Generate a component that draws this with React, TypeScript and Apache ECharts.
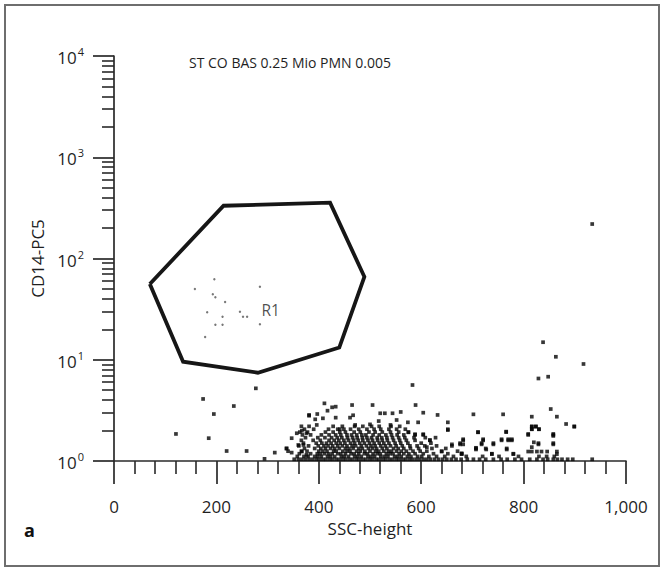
import React, { useEffect, useRef } from 'react';
import * as echarts from 'echarts';

// ---- Data ----
const titleText = 'ST CO BAS 0.25 Mio PMN 0.005';
const xAxisName = 'SSC-height';
const yAxisName = 'CD14-PC5';
const gateName = 'R1';
const panelLetter = 'a';

const xMin = 0;
const xMax = 1000;
const xInterval = 200;
const yMin = 1;
const yMax = 10000;

// Gate R1 polygon vertices [SSC, CD14] (closed)
const gateVertices: number[][] = [
  [70, 56], [214, 332], [422, 356], [489, 66], [440, 13.2], [281, 7.45], [135, 9.57], [70, 56],
];

// R1 label anchor
const gateLabelPos: number[] = [288, 31];

// Events inside the gate
const gateEvents: number[][] = [
  [158, 50], [196, 62.3], [193, 44.3], [198, 41.4], [217, 37.2], [182, 29.4], [212, 26.6],
  [246, 29.8], [252, 26.6], [260, 26.6], [285, 52.7], [285, 22.4], [198, 22.2], [212, 22.2], [178, 16.8],
];

// Isolated events outside the gate
const sparseEvents: number[][] = [
  [411, 3.71], [465, 3.57], [505, 3.57], [589, 3.57], [426, 3.39], [433, 3.44], [417, 3.14],
  [381, 2.85], [397, 2.91], [433, 2.68], [461, 2.68], [467, 2.83], [520, 2.96], [529, 2.96],
  [544, 2.96], [560, 3.05], [604, 3.0], [632, 2.85], [393, 2.58], [408, 2.64], [517, 2.48],
  [552, 2.54], [574, 2.41], [594, 2.41], [652, 2.41], [396, 2.27], [471, 2.27], [500, 2.3],
  [540, 2.27], [441, 2.06], [652, 2.02], [575, 1.92], [588, 1.84], [604, 1.84], [617, 1.61],
  [682, 1.64], [660, 1.46], [682, 1.46], [679, 1.19], [640, 1.24], [611, 1.37],
  [702, 2.89], [760, 2.89], [816, 2.74], [853, 3.26], [865, 2.74], [883, 2.32], [899, 2.18],
  [816, 2.18], [816, 2.06], [824, 2.18], [830, 2.06], [711, 1.92], [766, 1.95], [809, 1.85],
  [858, 1.85], [858, 1.77], [721, 1.64], [757, 1.64], [770, 1.64], [777, 1.64], [718, 1.46],
  [741, 1.46], [820, 1.53], [829, 1.46], [858, 1.46], [676, 1.46], [707, 1.35], [707, 1.3],
  [727, 1.3], [767, 1.3], [816, 1.37], [809, 1.24], [816, 1.24], [826, 1.24], [835, 1.24],
  [846, 1.24], [865, 1.24], [865, 1.17], [679, 1.17], [738, 1.17], [780, 1.17],
  [934, 219], [838, 14.9], [863, 10.7], [917, 9.08], [829, 6.53], [848, 6.8], [583, 5.63],
  [277, 5.22], [174, 4.1], [234, 3.49], [195, 2.91], [121, 1.85], [185, 1.68], [220, 1.255],
  [259, 1.255], [314, 1.21], [294, 1.05], [381, 2.8], [347, 1.68], [357, 1.88], [367, 1.99],
  [376, 1.88], [337, 1.33], [347, 1.21], [360, 1.44], [370, 1.44], [367, 1.24], [376, 1.15],
];

// Dense low-CD14 population: rows of [CD14 level, SSC values]
const cloudRows: [number, number[]][] = [
  [1.04, [352, 360, 367, 374, 381, 388, 395, 401, 408, 414, 421, 427, 434, 440, 447, 453, 460, 466, 473, 479, 486, 492, 499, 505, 512, 518, 525, 531, 538, 544, 551, 557, 564, 570, 577, 583, 590, 597, 604, 611, 618, 626, 634, 642, 650, 659, 668, 678, 690, 702, 714, 726, 741, 756, 768, 783, 796, 812, 826, 838, 847, 858, 866, 875, 886, 896, 934]],
  [1.11, [358, 371, 379, 392, 398, 405, 417, 423, 431, 444, 450, 458, 470, 476, 483, 496, 502, 509, 521, 528, 535, 548, 554, 561, 573, 580, 593, 601, 615, 630, 646, 663, 688, 720, 752, 790, 830, 845, 860]],
  [1.18, [362, 384, 397, 403, 411, 419, 426, 437, 443, 452, 463, 469, 478, 489, 495, 506, 514, 520, 532, 539, 545, 557, 566, 576, 588, 604, 624, 652, 679, 738, 780]],
  [1.25, [340, 366, 377, 400, 408, 416, 429, 434, 447, 455, 461, 474, 481, 490, 500, 511, 517, 527, 536, 542, 552, 561, 571, 584, 598, 611, 640, 671]],
  [1.33, [337, 372, 392, 404, 413, 423, 431, 440, 452, 459, 467, 478, 485, 497, 505, 513, 524, 533, 546, 555, 566, 579, 595, 621, 648, 707, 726, 767]],
  [1.41, [361, 380, 399, 410, 418, 427, 437, 446, 455, 465, 472, 483, 493, 502, 510, 521, 530, 540, 551, 563, 578, 592, 607, 630, 660]],
  [1.5, [370, 395, 406, 415, 424, 434, 442, 451, 462, 470, 480, 489, 499, 508, 518, 527, 537, 549, 560, 574, 600, 619, 676, 718, 741, 829, 858]],
  [1.6, [366, 389, 403, 420, 430, 439, 449, 458, 468, 477, 486, 496, 505, 515, 524, 534, 546, 558, 571, 588, 617, 682, 721, 757, 770, 777]],
  [1.7, [374, 398, 412, 425, 436, 445, 456, 466, 475, 485, 494, 503, 514, 523, 533, 544, 556, 568, 586, 608, 628]],
  [1.81, [368, 384, 405, 420, 433, 443, 455, 464, 474, 484, 492, 506, 518, 531, 542, 553, 566, 588, 604, 809, 858]],
  [1.93, [363, 378, 413, 428, 441, 452, 469, 481, 498, 510, 524, 540, 556, 575, 711, 766]],
  [2.06, [372, 390, 419, 437, 449, 462, 478, 494, 508, 521, 537, 552, 569, 652, 816, 830]],
  [2.2, [366, 381, 428, 446, 470, 486, 503, 518, 541, 558, 816, 824, 899]],
];

const FONT = '"Open Sans", "Noto Sans", sans-serif';
const INK = '#1f1f1f';

export default function App() {
  const ref = useRef<HTMLDivElement>(null);

  useEffect(() => {
    if (!ref.current) return;
    const chart = echarts.init(ref.current, null, { renderer: 'svg' });
    const cloud = cloudRows.flatMap(([y, xs]) => xs.map((x) => [x, y]));

    chart.setOption({
      animation: false,
      backgroundColor: '#ffffff',
      textStyle: { fontFamily: FONT, color: INK },
      grid: { left: 114, right: 38, top: 56, bottom: 110, containLabel: false, outerBoundsMode: 'none' },
      graphic: [
        {
          type: 'rect',
          z: -10,
          shape: { x: 5, y: 5, width: 654, height: 561 },
          style: { fill: 'none', stroke: '#6e6e6e', lineWidth: 2 },
        },
        {
          type: 'text',
          x: 290,
          y: 62,
          style: { text: titleText, fontSize: 14, fontFamily: FONT, fill: INK, align: 'center', verticalAlign: 'middle' },
        },
        {
          type: 'text',
          x: 24,
          y: 530,
          style: { text: panelLetter, fontSize: 18, fontWeight: 'bold', fontFamily: FONT, fill: '#111', align: 'left', verticalAlign: 'middle' },
        },
      ],
      xAxis: {
        type: 'value',
        min: xMin,
        max: xMax,
        interval: xInterval,
        name: xAxisName,
        nameLocation: 'middle',
        nameGap: 58,
        nameTextStyle: { fontSize: 17, fontFamily: FONT, color: INK },
        axisLine: { show: true, onZero: false, lineStyle: { color: '#2a2a2a', width: 1.7 } },
        axisTick: { show: true, inside: false, length: 23, lineStyle: { color: '#2a2a2a', width: 1.7 } },
        minorTick: { show: true, splitNumber: 5, length: 13, lineStyle: { color: '#2a2a2a', width: 1.6 } },
        splitLine: { show: false },
        axisLabel: {
          margin: 37,
          fontSize: 17,
          fontFamily: FONT,
          color: INK,
          formatter: (v: number) => v.toLocaleString('en-US'),
        },
      },
      yAxis: {
        type: 'log',
        logBase: 10,
        min: yMin,
        max: yMax,
        splitNumber: 4,
        name: yAxisName,
        nameLocation: 'middle',
        nameGap: 68,
        nameTextStyle: { fontSize: 17, fontFamily: FONT, color: INK },
        axisLine: { show: true, onZero: false, lineStyle: { color: '#2a2a2a', width: 1.7 } },
        axisTick: { show: true, inside: false, length: 21, lineStyle: { color: '#2a2a2a', width: 1.7 } },
        minorTick: { show: true, splitNumber: 9, length: 12, lineStyle: { color: '#2a2a2a', width: 1.6 } },
        splitLine: { show: false },
        minorSplitLine: { show: false },
        axisLabel: {
          margin: 30,
          formatter: (v: number) => `{b|10}{s|${Math.round(Math.log10(v))}}`,
          rich: {
            b: { fontSize: 17, fontFamily: FONT, color: INK, lineHeight: 20, verticalAlign: 'bottom' },
            s: { fontSize: 11, fontFamily: FONT, color: INK, lineHeight: 20, verticalAlign: 'top', padding: [0, 0, 0, 1] },
          },
        },
      },
      series: [
        {
          name: 'events',
          type: 'scatter',
          symbol: 'rect',
          symbolSize: 3.7,
          itemStyle: { color: '#050505' },
          data: [...cloud, ...sparseEvents],
          z: 3,
        },
        {
          name: 'gated',
          type: 'scatter',
          symbol: 'circle',
          symbolSize: 2.4,
          itemStyle: { color: '#555555' },
          data: gateEvents,
          z: 3,
        },
        {
          name: 'gate',
          type: 'line',
          symbol: 'none',
          data: gateVertices,
          lineStyle: { color: '#161616', width: 3.8, join: 'miter' },
          z: 4,
        },
        {
          name: 'gateLabel',
          type: 'scatter',
          symbolSize: 0,
          data: [gateLabelPos],
          label: {
            show: true,
            formatter: gateName,
            position: 'right',
            distance: 0,
            fontSize: 15.5,
            fontFamily: FONT,
            color: INK,
          },
          z: 5,
        },
      ],
    });

    return () => chart.dispose();
  }, []);

  return <div ref={ref} style={{ position: 'absolute', left: 0, top: 0, width: 664, height: 571 }} />;
}
